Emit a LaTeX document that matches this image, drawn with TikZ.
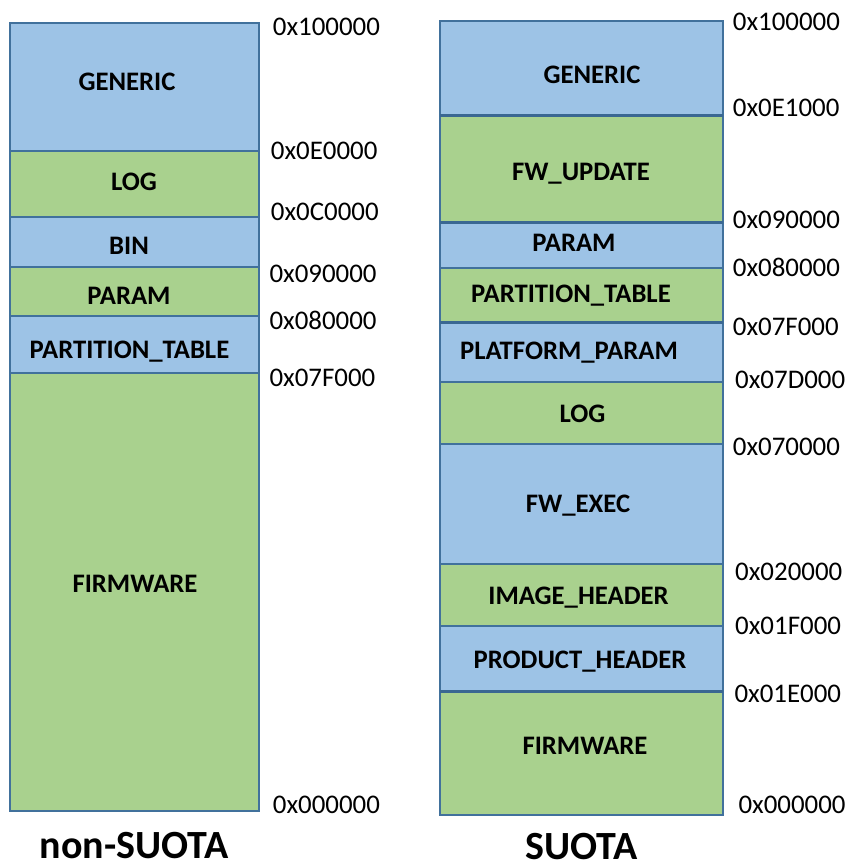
\documentclass[tikz,border=0pt]{standalone}
\usepackage{fontspec}
\setmainfont{Carlito}
\definecolor{memblue}{HTML}{9DC3E6}
\definecolor{memgreen}{HTML}{A9D18E}
\definecolor{memedge}{HTML}{41719C}
\definecolor{memseam}{HTML}{3A6792}
\tikzset{
  region/.style={draw=memedge, line width=1.5pt},
  bluereg/.style={region, fill=memblue},
  greenreg/.style={region, fill=memgreen},
  seam/.style={draw=memseam, line width=3pt},
  partname/.style={font=\fontsize{26.7}{32}\selectfont\bfseries, anchor=base, inner sep=0pt},
  addr/.style={font=\fontsize{26.9}{32}\selectfont, anchor=base west, inner sep=0pt},
  layout/.style={font=\fontsize{40}{48}\selectfont\bfseries, anchor=base, inner sep=0pt},
}
\begin{document}
\begin{tikzpicture}[x=1pt,y=-1pt]
\useasboundingbox (0,0) rectangle (846,863);

% ---------------- non-SUOTA flash layout ----------------
\path[bluereg]  (10,23)  rectangle (259,151);
\path[greenreg] (10,151) rectangle (259,217);
\path[bluereg]  (10,217) rectangle (259,267);
\path[greenreg] (10,267) rectangle (259,316);
\path[bluereg]  (10,316) rectangle (259,373);
\path[greenreg] (10,373) rectangle (259,811);

\node[partname] (lgeneric) at (127,90.6)   {GENERIC};
\node[partname] (llog)     at (134,190.6)  {LOG};
\node[partname] (lbin)     at (129,254.6)  {BIN};
\node[partname] (lparam)   at (129,304.1)  {PARAM};
\node[partname] (lptable)  at (129.5,358.6){PARTITION\_TABLE};
\node[partname] (lfw)      at (135,592.6)  {FIRMWARE};

\node[addr] (la100) at (272.7,35.2)  {0x100000};
\node[addr] (la0e0) at (270.7,159.2) {0x0E0000};
\node[addr] (la0c0) at (270.7,220.7) {0x0C0000};
\node[addr] (la090) at (269.3,282.7) {0x090000};
\node[addr] (la080) at (269.3,329.2) {0x080000};
\node[addr] (la07f) at (269.3,386.7) {0x07F000};
\node[addr] (la000) at (272.7,813.7) {0x000000};

\node[layout] (lname) at (134,858.5) {non-SUOTA};

% ---------------- SUOTA flash layout ----------------
\path[bluereg]  (440,21)  rectangle (723,115);
\path[greenreg] (440,115) rectangle (723,222);
\path[bluereg]  (440,222) rectangle (723,268);
\path[greenreg] (440,268) rectangle (723,322);
\path[bluereg]  (440,322) rectangle (723,382);
\path[greenreg] (440,382) rectangle (723,444);
\path[bluereg]  (440,444) rectangle (723,564);
\path[greenreg] (440,564) rectangle (723,626);
\path[bluereg]  (440,626) rectangle (723,691);
\path[greenreg] (440,691) rectangle (723,815);

% heavier seams between some partitions
\path[seam] (440,115) -- (723,115);
\path[seam] (440,222) -- (723,222);
\path[seam] (440,322) -- (723,322);
\path[seam] (440,691) -- (723,691);

\node[partname] (rgeneric) at (592,83.1)    {GENERIC};
\node[partname] (rfwupd)   at (581,180.6)   {FW\_UPDATE};
\node[partname] (rparam)   at (574,251.6)   {PARAM};
\node[partname] (rptable)  at (571,302.1)   {PARTITION\_TABLE};
\node[partname] (rplat)    at (569,359.6)   {PLATFORM\_PARAM};
\node[partname] (rlog)     at (582.5,422.6) {LOG};
\node[partname] (rfwexec)  at (578,512.6)   {FW\_EXEC};
\node[partname] (rimghdr)  at (578.5,604.1) {IMAGE\_HEADER};
\node[partname] (rprodhdr) at (580,668.6)   {PRODUCT\_HEADER};
\node[partname] (rfw)      at (585,754.1)   {FIRMWARE};

\node[addr] (ra100) at (732.7,30.7)  {0x100000};
\node[addr] (ra0e1) at (732.7,116.7) {0x0E1000};
\node[addr] (ra090) at (732.7,228.2) {0x090000};
\node[addr] (ra080) at (732.7,276.7) {0x080000};
\node[addr] (ra07f) at (732.7,335.2) {0x07F000};
\node[addr] (ra07d) at (735,388.2)   {0x07D000};
\node[addr] (ra070) at (732.7,455.2) {0x070000};
\node[addr] (ra020) at (735,580.2)   {0x020000};
\node[addr] (ra01f) at (735,634.2)   {0x01F000};
\node[addr] (ra01e) at (734.3,702.7) {0x01E000};
\node[addr] (ra000) at (738.3,813.7) {0x000000};

\node[layout] (rname) at (581.5,859) {SUOTA};
\end{tikzpicture}
\end{document}
